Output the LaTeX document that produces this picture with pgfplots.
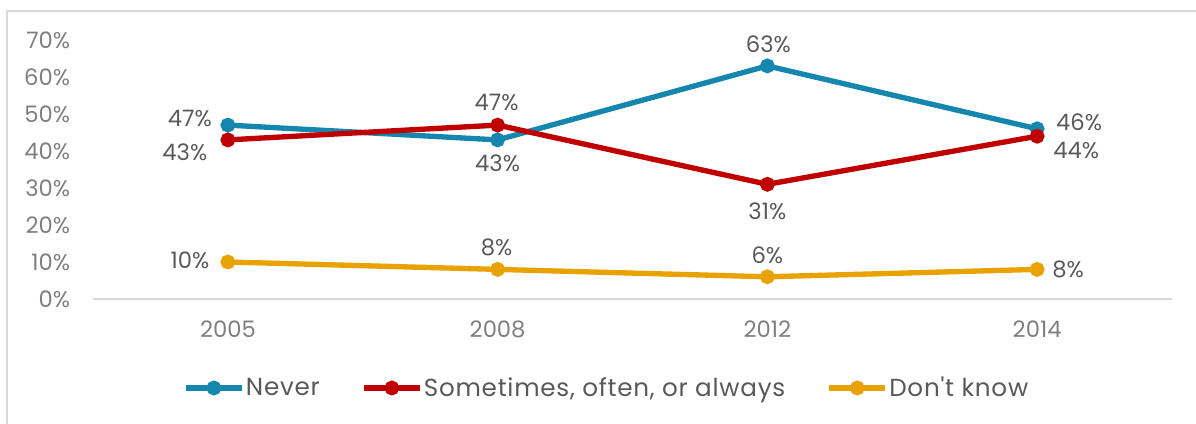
\documentclass[border=0pt]{standalone}
\usepackage{pgfplots}
\usepackage{pgfplotstable}
\pgfplotsset{compat=1.18}
\usepackage{fontspec}
\setmainfont{Poppins}[Ligatures=TeXOff]
\definecolor{cblue}{HTML}{1586AD}
\definecolor{cred}{HTML}{C00000}
\definecolor{cgold}{HTML}{E8A202}
\definecolor{tickgray}{HTML}{7F7F7F}
\definecolor{labgray}{HTML}{595959}
\definecolor{axgray}{HTML}{D9D9D9}

\pgfplotstableread{
x y dx dy
0.5 47 -28.5 5.25
1.5 43 0 -17.25
2.5 63 0.75 16.5
3.5 46 31.5 5.25
}\never
\pgfplotstableread{
x y dx dy
0.5 43 -32.25 -9
1.5 47 -0.75 17.25
2.5 31 0 -20.25
3.5 44 29.25 -10.5
}\sometimes
\pgfplotstableread{
x y dx dy
0.5 10 -28.5 1.5
1.5 8 -0.75 16.5
2.5 6 0 16.5
3.5 8 23.25 0
}\dontknow

\begin{document}
\begin{tikzpicture}
\path[use as bounding box] (0,0) rectangle (897pt,318pt);
\draw[axgray, line width=1pt] (5.25pt,0) -- (5.25pt,309.75pt) -- (897pt,309.75pt);
\begin{axis}[
  at={(69.75pt,93.75pt)}, anchor=south west,
  scale only axis, width=809.25pt, height=194.25pt,
  xmin=0, xmax=4, ymin=0, ymax=70,
  xtick={0.5,1.5,2.5,3.5}, xticklabels={2005,2008,2012,2014},
  ytick={0,10,20,30,40,50,60,70},
  yticklabels={0\%,10\%,20\%,30\%,40\%,50\%,60\%,70\%},
  axis x line*=bottom, axis y line*=left,
  x axis line style={draw=axgray, line width=1pt, -},
  y axis line style={draw=none},
  major tick length=0pt,
  tick label style={font=\fontsize{17pt}{20pt}\selectfont, text=tickgray, inner sep=0pt},
  yticklabel style={anchor=east, xshift=-17pt},
  xticklabel style={anchor=north, yshift=-16pt},
  clip=false,
  point meta=y,
  nodes near coords={\pgfmathprintnumber[assume math mode=true]{\pgfplotspointmeta}\%},
  visualization depends on={\thisrow{dx}\as\ldx},
  visualization depends on={\thisrow{dy}\as\ldy},
  every node near coord/.append style={anchor=center, xshift=\ldx pt, yshift=\ldy pt,
     font=\fontsize{17pt}{20pt}\selectfont, text=labgray, inner sep=0pt},
  every axis plot/.append style={line width=4pt, mark=*, mark size=3.5pt},
  legend image code/.code={\draw[#1,mark repeat=2,mark phase=2] plot coordinates {(0pt,0pt)(21pt,0pt)(42pt,0pt)};},
  legend columns=3,
  legend style={at={(0.0834,-0.3436)}, anchor=west, draw=none, fill=none, inner sep=0pt,
     font=\fontsize{18.5pt}{22pt}\selectfont\addfontfeature{LetterSpace=3}, text=labgray,
     /tikz/every even column/.append style={column sep=30pt},
     nodes={inner xsep=1pt}},
]
\addplot[color=cblue, mark options={fill=cblue}] table[x=x,y=y] {\never};
\addlegendentry{Never}
\addplot[color=cred, mark options={fill=cred}] table[x=x,y=y] {\sometimes};
\addlegendentry{Sometimes, often, or always}
\addplot[color=cgold, mark options={fill=cgold}] table[x=x,y=y] {\dontknow};
\addlegendentry{Don't know}
\end{axis}
\end{tikzpicture}
\end{document}
